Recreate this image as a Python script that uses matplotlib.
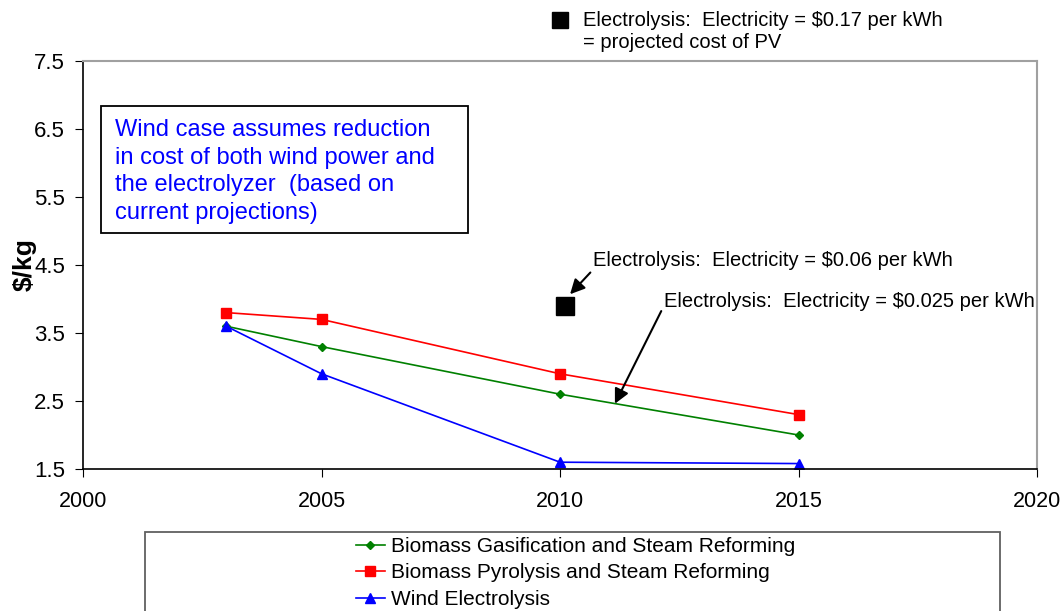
import matplotlib
matplotlib.use('Agg')
import matplotlib.pyplot as plt
from matplotlib.patches import Rectangle

plt.rcParams['font.family'] = ['Liberation Sans', 'DejaVu Sans']

# data
years = [2003, 2005, 2010, 2015]
gasification = [3.6, 3.3, 2.6, 2.0]
pyrolysis = [3.8, 3.7, 2.9, 2.3]
wind = [3.6, 2.9, 1.6, 1.58]
elec_year = 2010.1
elec_cost = 3.9          # electricity at $0.06 per kWh
pv_year = 2010.0
pv_cost = 8.1            # shown above the plot, off scale

names = ['Biomass Gasification and Steam Reforming',
         'Biomass Pyrolysis and Steam Reforming',
         'Wind Electrolysis']
xticks = [2000, 2005, 2010, 2015, 2020]
yticks = [1.5, 2.5, 3.5, 4.5, 5.5, 6.5, 7.5]

fig = plt.figure(figsize=(10.62, 6.11), dpi=100)
ax = fig.add_axes([0.0782, 0.2324, 0.8983, 0.6678])

l1, = ax.plot(years, gasification, color='#008000', marker='D', markersize=4.5, lw=1.2, label=names[0])
l2, = ax.plot(years, pyrolysis, color='#ff0000', marker='s', markersize=6.5, lw=1.2, label=names[1])
l3, = ax.plot(years, wind, color='#0000ff', marker='^', markersize=7, lw=1.2, label=names[2])

ax.plot([elec_year], [elec_cost], 's', color='black', markersize=12.5)
ax.plot([pv_year], [pv_cost], 's', color='black', markersize=11, clip_on=False)

ax.set_xlim(2000, 2020)
ax.set_ylim(1.5, 7.5)
ax.set_xticks(xticks)
ax.set_yticks(yticks)
ax.set_xticklabels([str(x) for x in xticks])
ax.set_yticklabels(['%.1f' % y for y in yticks])
ax.tick_params(axis='x', labelsize=15.5, length=6, pad=10, direction='out')
ax.tick_params(axis='y', labelsize=16, length=6, pad=7, direction='out')

for s in ['top', 'right']:
    ax.spines[s].set_color('#a0a0a0')
    ax.spines[s].set_linewidth(1.5)
for s in ['left', 'bottom']:
    ax.spines[s].set_color('black')
    ax.spines[s].set_linewidth(1.2)

ax.set_ylabel('$/kg', fontsize=19, fontweight='bold', labelpad=-2)

# note box
ax.add_patch(Rectangle((0.0189, 0.5784), 0.3847, 0.3113, transform=ax.transAxes,
                       fill=False, edgecolor='black', lw=1.3))
ax.text(0.0335, 0.858, 'Wind case assumes reduction\nin cost of both wind power and\n'
        'the electrolyzer  (based on\ncurrent projections)',
        transform=ax.transAxes, color='#0000ff', fontsize=17, va='top', ha='left',
        linespacing=1.33)

# annotations
ax.annotate('Electrolysis:  Electricity = $0.06 per kWh', xy=(2010.21, 4.07), xytext=(2010.69, 4.57),
            fontsize=14.5, va='center', ha='left',
            arrowprops=dict(arrowstyle='-|>', color='black', lw=1.5, mutation_scale=22,
                            shrinkA=0, shrinkB=0, relpos=(0, 0)))
ax.annotate('Electrolysis:  Electricity = $0.025 per kWh', xy=(2011.15, 2.46), xytext=(2012.18, 3.96),
            fontsize=14.5, va='center', ha='left',
            arrowprops=dict(arrowstyle='-|>', color='black', lw=1.5, mutation_scale=22,
                            shrinkA=0, shrinkB=0, relpos=(0, 0.3)))
fig.text(583 / 1062, 1 - 20 / 611, 'Electrolysis:  Electricity = $0.17 per kWh',
         fontsize=14.5, va='center', ha='left')
fig.text(583 / 1062, 1 - 42 / 611, '= projected cost of PV',
         fontsize=14.5, va='center', ha='left')

# legend box running off the bottom
fig.add_artist(Rectangle((0.1361, -0.05), 0.8055, 0.1785, transform=fig.transFigure,
                         fill=False, edgecolor='#606060', lw=1.3))
fig.legend(handles=[l1, l2, l3], loc='upper left', bbox_to_anchor=(355.6 / 1062, 1 - 537 / 611),
           frameon=False, fontsize=15, handlelength=1.4, handletextpad=0.3,
           labelspacing=0.36, borderpad=0, borderaxespad=0)

plt.savefig('out.png', dpi=100)
